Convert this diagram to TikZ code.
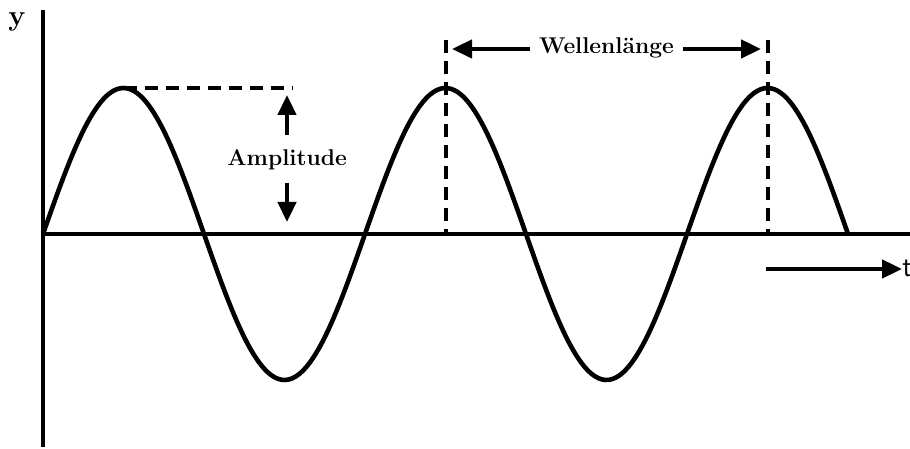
\documentclass[tikz,border=0pt]{standalone}
\usetikzlibrary{arrows.meta}
\tikzset{
  wave/.style={line width=2.3pt},
  guide/.style={line width=2pt, dash pattern=on 6.5pt off 4pt},
  marker/.style={line width=2.3pt, -{Triangle[length=10pt,width=9pt]}},
  lbl/.style={font=\fontsize{11.4}{13}\selectfont\bfseries, inner sep=1.5pt}
}
\begin{document}
\begin{tikzpicture}[x=0.5pt, y=0.5pt, line cap=butt]
  \useasboundingbox (-43,-215) rectangle (867,234);
  % axes
  \coordinate (O) at (0,0);
  \coordinate (ytop) at (0,224);
  \coordinate (ybot) at (0,-213);
  \coordinate (xend) at (867,0);
  \draw[wave] (ybot) -- (ytop);
  \draw[wave] (O) -- (xend);
  \node[lbl, font=\bfseries\Large] (ylab) at (-26,212) {y};
  % the wave
  \draw[wave, line join=round] plot[domain=0:805, samples=240, smooth] (\x, {146*sin(\x/322*360)});
  % amplitude
  \coordinate (peakA) at (80.5,146);
  \coordinate (peakB) at (402.5,146);
  \coordinate (peakC) at (724.5,146);
  \draw[guide] (peakA) -- (250,146);
  \node[lbl] (amp) at (244,74) {Amplitude};
  \coordinate (ampup) at (244,139);
  \coordinate (ampdn) at (244,12);
  \draw[marker] (244,99) -- (ampup);
  \draw[marker] (244,51) -- (ampdn);
  % wavelength
  \draw[guide] (402.5,194) -- (402.5,0);
  \draw[guide] (724.5,194) -- (724.5,0);
  \node[lbl] (wl) at (563.5,186) {Wellenl\"ange};
  \coordinate (wlleft) at (409,185);
  \coordinate (wlright) at (718,185);
  \draw[marker] (wl.west) ++(-6,-1) -- (wlleft);
  \draw[marker] (wl.east) ++(6,-1) -- (wlright);
  % time direction
  \coordinate (tstart) at (723,-35);
  \node[font=\sffamily\Large, anchor=west, inner sep=0pt] (tlab) at (859,-34) {t};
  \draw[marker] (tstart) -- (tstart -| tlab.west);
\end{tikzpicture}
\end{document}
